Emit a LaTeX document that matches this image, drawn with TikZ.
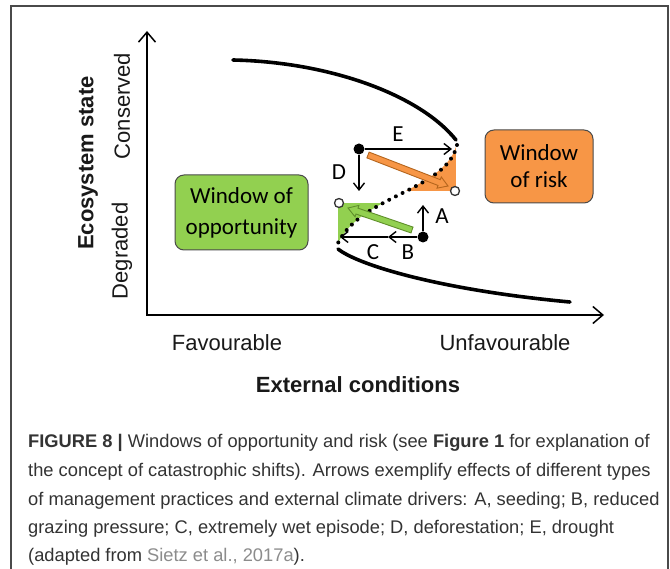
\documentclass[tikz,border=0pt]{standalone}
\usepackage{fontspec}
\setmainfont{Liberation Sans}
\newfontfamily\calfont{Carlito}
\newfontfamily\capfont{Liberation Sans}
\usetikzlibrary{arrows.meta,calc}
\definecolor{myorange}{HTML}{F79646}
\definecolor{mygreen}{HTML}{92D050}
\definecolor{myorangedark}{HTML}{B5651D}
\definecolor{mygreendark}{HTML}{5F8F2A}
\definecolor{framegray}{HTML}{4A4A4A}
\definecolor{captext}{HTML}{333333}
\definecolor{linkgray}{HTML}{8C8C8C}
\newcommand\myblockarrow[4]{%
  \coordinate (ba-t) at (#1);
  \coordinate (ba-h) at (#2);
  \coordinate (ba-b) at ($(ba-h)!9.5pt!(ba-t)$);
  \filldraw[fill=#3, draw=#4, line width=0.9pt, line join=miter]
    ($(ba-t)!3.1pt!90:(ba-h)$) -- ($(ba-b)!3.1pt!90:(ba-h)$) -- ($(ba-b)!6pt!90:(ba-h)$)
    -- (ba-h) -- ($(ba-b)!6pt!-90:(ba-h)$) -- ($(ba-b)!3.1pt!-90:(ba-h)$)
    -- ($(ba-t)!3.1pt!-90:(ba-h)$) -- cycle;
}
\tikzset{
  axisline/.style={line width=1.5pt, {Straight Barb[length=10pt,width=17pt]}-{Straight Barb[length=10pt,width=17pt]}},
  branch/.style={line width=3.6pt, line cap=round},
  unstable/.style={line width=4pt, line cap=round, dash pattern=on 0pt off 7.5pt},
  arr/.style={line width=1.4pt, -{Straight Barb[length=7pt,width=11pt]}},
  bdot/.style={circle, fill=black, inner sep=0pt, minimum size=11pt},
  odot/.style={circle, draw=black!80, fill=white, line width=1.3pt, inner sep=0pt, minimum size=9pt},
  letter/.style={font=\calfont\fontsize{23}{26}\selectfont, inner sep=0pt},
  winbox/.style={draw=framegray, line width=1pt, rounded corners=9pt, align=center, inner sep=0pt},
  axlab/.style={font=\fontsize{22}{26}\selectfont, inner sep=0pt, text=black!90},
  capline/.style={anchor=base west, inner sep=0pt, text=captext, font=\capfont\fontsize{18.3}{24}\selectfont}
}
\begin{document}
\begin{tikzpicture}[x=1pt, y=-1pt]
\useasboundingbox (0,0) rectangle (670,569);
\fill[white] (0,0) rectangle (670,569);
% frame
\draw[framegray, line width=1.5pt] (11,580) -- (11,6) -- (668,6) -- (668,580);

% shaded windows
\begin{scope}
  \clip (457,143) .. controls (447,190) and (362,195) .. (338,243) -- (620,243) -- (620,143) -- cycle;
  \fill[myorange] (380,120) rectangle (456,191);
\end{scope}
\begin{scope}
  \clip (457,143) .. controls (447,190) and (362,195) .. (338,243) -- (300,243) -- (300,100) -- (457,100) -- cycle;
  \fill[mygreen] (338,203) rectangle (420,243);
\end{scope}

% axes
\coordinate (ytop) at (147,31);
\coordinate (orig) at (147,315);
\coordinate (xend) at (604,315);
\draw[axisline] (ytop) -- (orig) -- (xend);

% S-curve
\draw[branch] (233,60) .. controls (330,62) and (420,95) .. (456,140);
\draw[unstable] (457,145) .. controls (447,190) and (362,195) .. (338,243);
\draw[branch] (338,249) .. controls (358,265) and (440,290) .. (570,302);

% thick arrows
\myblockarrow{368,155}{448,186}{myorange}{myorangedark}
\myblockarrow{412,230}{348,208}{mygreen}{mygreendark}

% state points
\node[odot] (o1) at (455,191) {};
\node[odot] (o2) at (339,203) {};
\node[bdot] (de) at (359,149) {};
\node[bdot] (ab) at (423,237) {};
\coordinate (etip) at (452,149);
\coordinate (dtip) at (359,191);
\coordinate (atip) at (423,205);
\coordinate (bmid) at (388,237);
\coordinate (ctip) at (340,237);
\draw[arr] (de) -- (etip);
\draw[arr] (de) -- (dtip);
\draw[arr] (ab) -- (atip);
\draw[arr] (ab) -- (bmid);
\draw[arr] (bmid) -- (ctip);

\node[letter] (le) at (398,134) {E};
\node[letter] (ld) at (339,172) {D};
\node[letter] (la) at (442,216) {A};
\node[letter] (lb) at (408,252) {B};
\node[letter] (lc) at (373,252) {C};

% window boxes
\node[winbox, fill=mygreen, minimum width=133pt, minimum height=75pt,
      font=\calfont\fontsize{23}{31}\selectfont] (wopp) at (241.5,212.5) {Window of\\opportunity};
\node[winbox, fill=myorange, minimum width=108pt, minimum height=73pt,
      font=\calfont\fontsize{23}{27}\selectfont] (wrisk) at (539,166.5) {Window\\of risk};

% axis labels
\node[axlab, rotate=90, font=\bfseries\fontsize{22}{26}\selectfont] (ylab) at (88,163) {Ecosystem state};
\node[axlab, rotate=90] (cons) at (122,106) {Conserved};
\node[axlab, rotate=90] (degr) at (122,251) {Degraded};
\node[axlab] (fav) at (227,343) {Favourable};
\node[axlab] (unfav) at (505,343) {Unfavourable};
\node[axlab, font=\bfseries\fontsize{22}{26}\selectfont] (xlab) at (358,385) {External conditions};

% caption
\node[capline] (c1) at (28,448) {\textbf{FIGURE 8 |} Windows of opportunity and risk (see \textbf{Figure 1} for explanation of};
\node[capline] (c2) at (28,476.5) {the concept of catastrophic shifts). Arrows exemplify effects of different types};
\node[capline] (c3) at (28,505) {of management practices and external climate drivers: A, seeding; B, reduced};
\node[capline] (c4) at (28,533.5) {grazing pressure; C, extremely wet episode; D, deforestation; E, drought};
\node[capline] (c5) at (28,561) {(adapted from {\color{linkgray}Sietz et al., 2017a}).};
\end{tikzpicture}
\end{document}
